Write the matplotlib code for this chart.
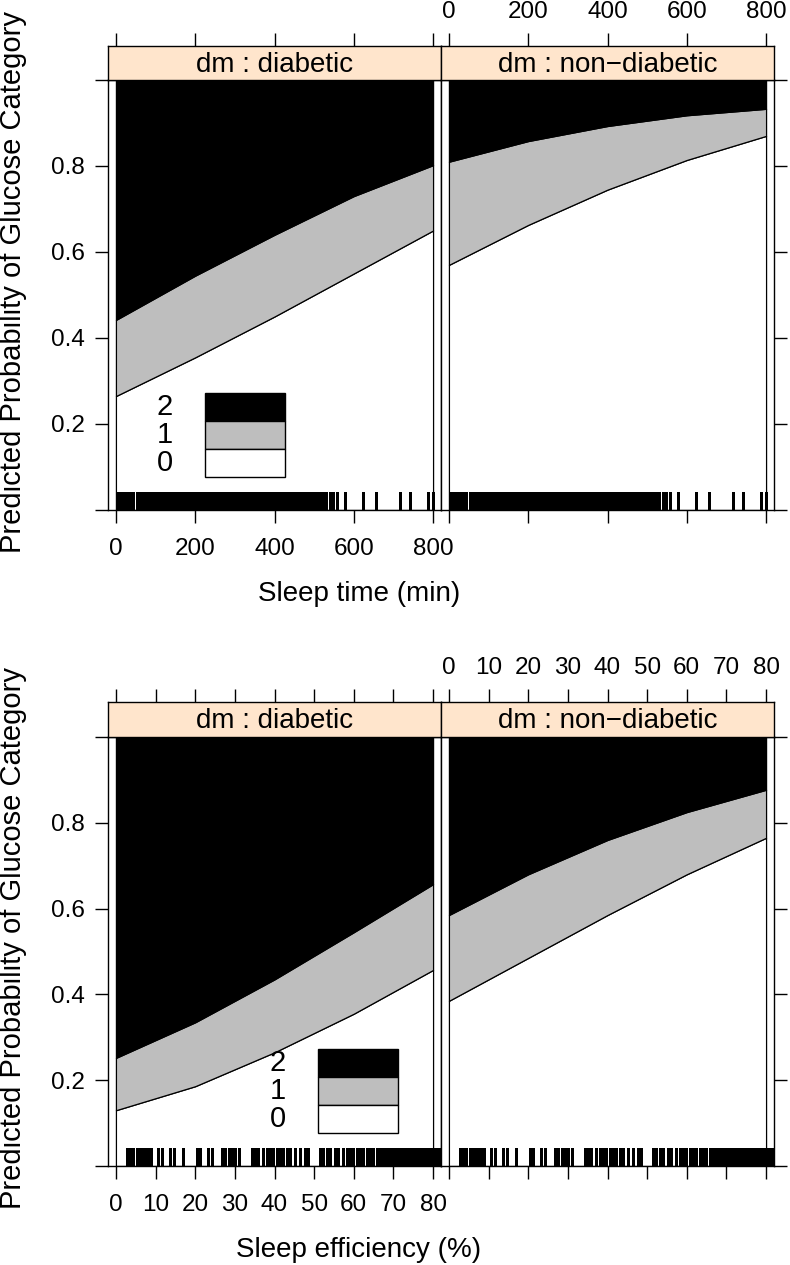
import matplotlib
matplotlib.use("Agg")
import matplotlib.pyplot as plt
from matplotlib.patches import Rectangle

plt.rcParams['font.family'] = ['Liberation Sans', 'DejaVu Sans']

# valeurs (effets predits, empilés 0 / 1 / 2)
sleep_x = [0, 200, 400, 600, 800]
sleep_diab_lo = [0.265, 0.355, 0.45, 0.55, 0.65]
sleep_diab_hi = [0.442, 0.545, 0.64, 0.73, 0.802]
sleep_non_lo = [0.57, 0.663, 0.745, 0.814, 0.870]
sleep_non_hi = [0.81, 0.858, 0.893, 0.918, 0.933]

eff_x = [0, 20, 40, 60, 80]
eff_diab_lo = [0.13, 0.186, 0.265, 0.355, 0.457]
eff_diab_hi = [0.252, 0.335, 0.435, 0.545, 0.657]
eff_non_lo = [0.385, 0.485, 0.585, 0.68, 0.765]
eff_non_hi = [0.585, 0.68, 0.76, 0.825, 0.877]

panel_names = ["dm : diabetic", "dm : non\u2212diabetic"]
key_labels = ["2", "1", "0"]
key_colors = ["black", "#bebebe", "white"]

# rug (valeurs observees)
rug_sleep = [6, 10, 14, 18, 22, 26, 30, 35, 44, 52, 59, 65,
             69, 72, 75, 78, 81, 84, 87, 90, 93, 96, 99, 102, 105, 108, 111, 114, 117, 120,
             123, 126, 129, 132, 135, 138, 141, 144, 147, 150, 153,
             157, 161, 166,
             170, 173, 176, 179, 182, 185, 188, 191, 194, 197, 200, 203, 206, 209, 212, 215,
             218, 221, 225,
             229, 232, 235, 238, 241, 244, 247, 250, 253, 256, 259, 262, 265, 268, 271, 274,
             277, 280, 283, 286, 289, 292, 295, 298, 301, 304, 307, 310, 313, 316, 319, 322,
             325, 328, 331, 334, 337, 340, 343, 346, 349, 352, 355, 358, 361, 364, 367, 370,
             373, 376, 379, 382, 385, 388, 391, 394, 397, 400, 403, 406,
             410, 413, 416, 419, 422, 425, 428, 431, 434, 437, 440, 443, 446, 449, 452, 455,
             458, 461, 464, 467, 470, 473, 476, 479, 482, 485, 488, 491, 494, 498,
             502, 507, 512, 517, 522, 530, 540, 548, 557, 578, 624, 656, 717, 742, 788, 800]

rug_eff = [2.7, 3.5, 4.4, 5.2, 5.9, 6.5, 7.3, 8.2, 8.8, 10.7, 11.5, 13.6, 14.6, 17.0,
           20.5, 21.2, 23.3, 24.2, 26.7, 27.5, 28.4, 29.2, 30.0, 31.1,
           34.2, 35.1, 35.9, 37.2, 38.0, 38.9, 39.7, 40.6, 41.4, 42.2, 43.1, 43.9, 45.2,
           46.4, 47.7, 48.5, 51.5, 52.3, 53.2, 54.0, 55.3, 56.1, 57.4, 58.2, 59.1, 59.9,
           60.7, 61.6, 62.4, 63.3, 64.1, 64.9, 65.8,
           66.4, 66.8, 67.2, 67.6, 68.0, 68.4, 68.8, 69.2, 69.6, 70.0, 70.4, 70.8, 71.2,
           71.6, 72.0, 72.4, 72.8, 73.2, 73.6, 74.0, 74.4, 74.8, 75.2, 75.6, 76.0, 76.4,
           76.8, 77.2, 77.6, 78.0, 78.4, 78.8, 79.2, 79.6, 80.0, 80.4, 80.8, 81.2, 81.6, 82.0]

W, H = 790, 1265
fig = plt.figure(figsize=(W / 100, H / 100), dpi=100)

def px_axes(x0, y0, x1, y1):
    return fig.add_axes([x0 / W, 1 - y1 / H, (x1 - x0) / W, (y1 - y0) / H])

TL = 9.4  # longueur des ticks (pt)
FS = 17.5

def draw_row(y_strip, y_top, y_bot, x, curves, rug, xlim, xticks, xlabel, key_box, label_x):
    lefts = [(108, 441), (441, 774)]
    for i in range(2):
        lo, hi = curves[i]
        x0, x1 = lefts[i]
        ax = px_axes(x0, y_top, x1, y_bot)
        ax.fill_between(x, 0, lo, facecolor="white", edgecolor="black", lw=0.9, zorder=2)
        ax.fill_between(x, lo, hi, facecolor="#bebebe", edgecolor="black", lw=0.9, zorder=2)
        ax.fill_between(x, hi, 1, facecolor="black", edgecolor="black", lw=0.9, zorder=2)
        ax.vlines(rug, 0, 0.042, color="black", lw=0.8, antialiased=False, zorder=3)
        ax.set_xlim(*xlim)
        ax.set_ylim(0, 1)
        ax.set_xticks(xticks)
        ax.set_yticks([0, 0.2, 0.4, 0.6, 0.8, 1.0])
        ax.set_yticklabels(["", "0.2", "0.4", "0.6", "0.8", ""])
        ax.tick_params(direction="out", length=TL, width=1, labelsize=FS, pad=7)
        ax.tick_params(axis="x", pad=11)
        if i == 0:
            ax.tick_params(axis="y", left=True, labelleft=True, right=False)
            ax.tick_params(axis="x", labelbottom=True)
        else:
            ax.tick_params(axis="y", left=False, labelleft=False, right=True, labelright=False)
            ax.tick_params(axis="x", labelbottom=False)
        for s in ax.spines.values():
            s.set_linewidth(1)
            s.set_zorder(5)

        st = px_axes(x0, y_strip, x1, y_top)
        st.set_facecolor("#ffe5cc")
        st.set_xlim(*xlim)
        st.set_ylim(0, 1)
        st.set_yticks([])
        st.set_xticks(xticks)
        st.xaxis.tick_top()
        st.tick_params(axis="x", direction="out", length=TL, width=1, labelsize=FS, pad=7,
                       labeltop=(i == 1), bottom=False, labelbottom=False)
        for s in st.spines.values():
            s.set_linewidth(1)
        st.text(0.5, 0.45, panel_names[i], transform=st.transAxes, ha="center", va="center",
                fontsize=20)

    # cle
    kx0, ky0, kx1, ky1 = key_box
    h = (ky1 - ky0) / 3
    for j in range(3):
        r = Rectangle((kx0 / W, 1 - (ky0 + (j + 1) * h) / H), (kx1 - kx0) / W, h / H,
                      transform=fig.transFigure, facecolor=key_colors[j], edgecolor="black",
                      lw=1, zorder=10)
        fig.add_artist(r)
        fig.text(label_x / W, 1 - (ky0 + (j + 0.5) * h) / H, key_labels[j], ha="center",
                 va="center", fontsize=21, zorder=10)

    fig.text(359 / W, 1 - (y_bot + 84) / H, xlabel, ha="center", va="center", fontsize=20)
    fig.text(13 / W, 1 - ((y_strip + y_bot) / 2 + 4) / H, "Predicted Probability of Glucose Category",
             rotation=90, ha="center", va="center", fontsize=21)


draw_row(46, 80, 510, sleep_x,
         [(sleep_diab_lo, sleep_diab_hi), (sleep_non_lo, sleep_non_hi)],
         rug_sleep, (-20, 820), [0, 200, 400, 600, 800], "Sleep time (min)",
         (205, 393, 285, 477), 165)

draw_row(702, 737, 1166, eff_x,
         [(eff_diab_lo, eff_diab_hi), (eff_non_lo, eff_non_hi)],
         rug_eff, (-2.0, 82.0), [0, 10, 20, 30, 40, 50, 60, 70, 80], "Sleep efficiency (%)",
         (318, 1049, 398, 1133), 278)

fig.savefig("out.png", dpi=100)
